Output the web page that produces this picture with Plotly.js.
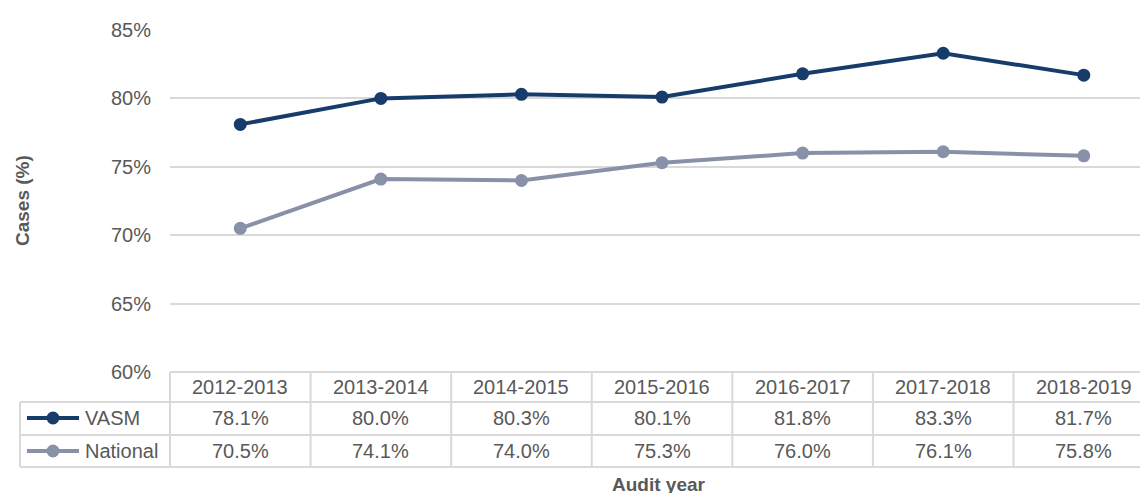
<!DOCTYPE html>
<html>
<head>
<meta charset="utf-8">
<script src="https://cdn.plot.ly/plotly-3.0.1.min.js"></script>
<style>
  html, body { margin: 0; padding: 0; background: #fff; }
  #chart { width: 1140px; height: 493px; }
</style>
</head>
<body>
<div id="chart"></div>
<script>
var years = ['2012-2013', '2013-2014', '2014-2015', '2015-2016', '2016-2017', '2017-2018', '2018-2019'];
var vasm = [78.1, 80.0, 80.3, 80.1, 81.8, 83.3, 81.7];
var national = [70.5, 74.1, 74.0, 75.3, 76.0, 76.1, 75.8];
var seriesNames = ['VASM', 'National'];
var seriesColors = ['#173c6b', '#8891a8'];
var yTicks = [60, 65, 70, 75, 80, 85];

var idx = years.map(function (d, i) { return i; });
var txt = '#595959';
var grid = '#d9d9d9';
var font = 'Liberation Sans, Arial, sans-serif';
var fs = 20;

// pixel -> paper helpers (plot area: x 170..1140, y 30..372)
function px(x) { return (x - 170) / 970; }
function py(y) { return (372 - y) / 342; }

var traces = [vasm, national].map(function (vals, s) {
  return {
    x: idx, y: vals, type: 'scatter', mode: 'lines+markers',
    name: seriesNames[s],
    line: { color: seriesColors[s], width: 4 },
    marker: { color: seriesColors[s], size: 13 },
    cliponaxis: false,
    hoverinfo: 'skip'
  };
});

var shapes = [];
var annotations = [];
var rowY = [402, 435, 467];

function note(x, y, xref, text, extra) {
  var a = { x: x, y: y, xref: xref, yref: 'paper', text: text, showarrow: false,
    xanchor: 'center', yanchor: 'middle', font: { size: fs, color: txt, family: font } };
  for (var k in extra) a[k] = extra[k];
  annotations.push(a);
}

// table horizontal lines
shapes.push({ type: 'line', xref: 'paper', yref: 'paper', x0: 0, x1: 1.02, y0: 0, y1: 0, line: { color: grid, width: 2 } });
rowY.forEach(function (y) {
  shapes.push({ type: 'line', xref: 'paper', yref: 'paper', x0: px(20), x1: 1.02, y0: py(y), y1: py(y), line: { color: grid, width: 2 } });
});
// table vertical lines (column boundaries at i - 0.5, axis range [-0.5, 6.4])
shapes.push({ type: 'line', xref: 'paper', yref: 'paper', x0: px(20), x1: px(20), y0: py(402), y1: py(467), line: { color: grid, width: 2 } });
for (var k = 0; k < years.length; k++) {
  shapes.push({ type: 'line', xref: 'paper', yref: 'paper', x0: k / 6.9, x1: k / 6.9, y0: 0, y1: py(467), line: { color: grid, width: 2 } });
}

// header + values
years.forEach(function (yr, i) {
  note(i, py(387), 'x', yr);
  note(i, py(418), 'x', vasm[i].toFixed(1) + '%');
  note(i, py(451), 'x', national[i].toFixed(1) + '%');
});

// legend keys inside the table
[418, 451].forEach(function (y, s) {
  shapes.push({ type: 'line', xref: 'paper', yref: 'paper', x0: px(27), x1: px(79), y0: py(y), y1: py(y), line: { color: seriesColors[s], width: 4 } });
  shapes.push({ type: 'circle', xref: 'paper', yref: 'paper', xsizemode: 'pixel', ysizemode: 'pixel',
    xanchor: px(53), yanchor: py(y), x0: -6.5, x1: 6.5, y0: -6.5, y1: 6.5,
    fillcolor: seriesColors[s], line: { width: 0 } });
  note(px(83), py(y), 'paper', seriesNames[s], { xanchor: 'left' });
});

// axis titles
note(px(22), py(201), 'paper', '<b>Cases (%)</b>', { textangle: -90, font: { size: 19, color: txt, family: font } });
note(px(659), py(484), 'paper', '<b>Audit year</b>', { font: { size: 19, color: txt, family: font } });

var layout = {
  width: 1140, height: 493,
  margin: { l: 170, r: 0, t: 30, b: 121 },
  paper_bgcolor: '#fff', plot_bgcolor: '#fff',
  showlegend: false,
  font: { family: font, color: txt },
  xaxis: { range: [-0.5, 6.4], showgrid: false, zeroline: false, showticklabels: false, showline: false, fixedrange: true },
  yaxis: {
    range: [60, 85], tickmode: 'array', tickvals: yTicks,
    ticktext: yTicks.map(function (v) { return v + '%'; }),
    showgrid: true, gridcolor: grid, gridwidth: 2, zeroline: false, showline: false,
    ticks: '', ticklabelstandoff: 18, tickfont: { size: fs, color: txt, family: font }, fixedrange: true
  },
  shapes: shapes,
  annotations: annotations
};

Plotly.newPlot('chart', traces, layout, { displayModeBar: false, staticPlot: true });
</script>
</body>
</html>
